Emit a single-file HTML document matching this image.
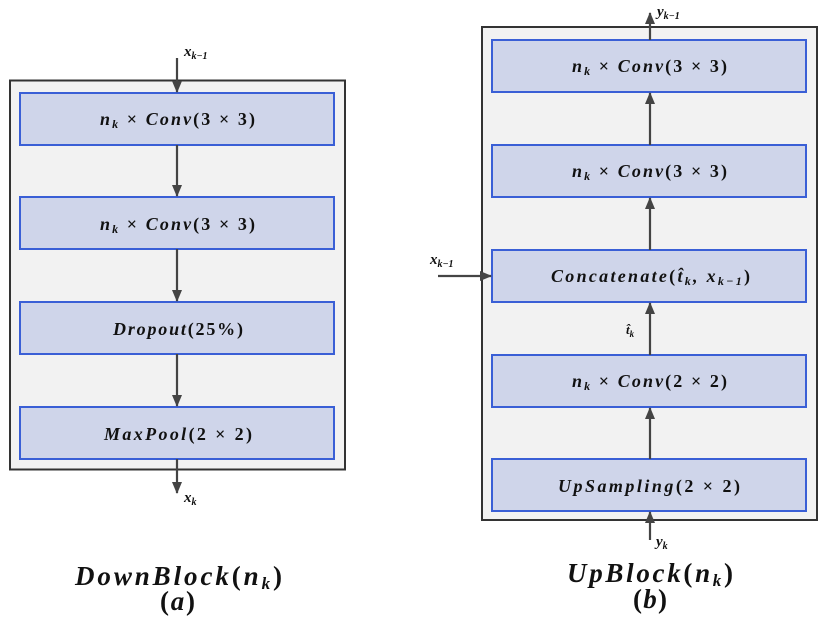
<!DOCTYPE html>
<html><head><meta charset="utf-8"><style>
html,body{margin:0;padding:0;background:#fff;}
svg text{font-family:"Liberation Serif","DejaVu Serif",serif;font-weight:bold;font-style:italic;fill:#111;}
.u{font-style:normal;}
</style></head><body>
<svg width="829" height="621" viewBox="0 0 829 621" xmlns="http://www.w3.org/2000/svg">
<defs><marker id="a" markerWidth="12" markerHeight="12" refX="11" refY="6" orient="auto" markerUnits="userSpaceOnUse"><path d="M0,1 L12,6 L0,11 Z" fill="#444"/></marker></defs>
<rect x="10" y="80.5" width="335" height="389" fill="#f2f2f2" stroke="#333" stroke-width="2"/>
<rect x="482" y="27" width="335" height="493" fill="#f2f2f2" stroke="#333" stroke-width="2"/>
<g fill="#cfd5ea" stroke="#3a5fd6" stroke-width="2">
<rect x="20" y="93" width="314" height="52"/><rect x="20" y="197" width="314" height="52"/>
<rect x="20" y="302" width="314" height="52"/><rect x="20" y="407" width="314" height="52"/>
<rect x="492" y="40" width="314" height="52"/><rect x="492" y="145" width="314" height="52"/>
<rect x="492" y="250" width="314" height="52"/><rect x="492" y="355" width="314" height="52"/>
<rect x="492" y="459" width="314" height="52"/>
</g>
<g stroke="#444" stroke-width="2.2" marker-end="url(#a)">
<line x1="177" y1="58" x2="177" y2="92"/><line x1="177" y1="145" x2="177" y2="196"/>
<line x1="177" y1="249" x2="177" y2="301"/><line x1="177" y1="354" x2="177" y2="406"/>
<line x1="177" y1="459" x2="177" y2="493"/>
<line x1="650" y1="540" x2="650" y2="512"/><line x1="650" y1="459" x2="650" y2="408"/>
<line x1="650" y1="355" x2="650" y2="303"/><line x1="650" y1="250" x2="650" y2="198"/>
<line x1="650" y1="145" x2="650" y2="93"/><line x1="650" y1="40" x2="650" y2="13"/>
<line x1="438" y1="276" x2="491" y2="276"/>
</g>
<g font-size="18">
<text x="100" y="125" textLength="155" lengthAdjust="spacing">n<tspan font-size="12" dy="3">k</tspan><tspan dy="-3" class="u"> × </tspan>Conv<tspan class="u">(3 × 3)</tspan></text>
<text x="100" y="230" textLength="155" lengthAdjust="spacing">n<tspan font-size="12" dy="3">k</tspan><tspan dy="-3" class="u"> × </tspan>Conv<tspan class="u">(3 × 3)</tspan></text>
<text x="113" y="335" textLength="130" lengthAdjust="spacing">Dropout<tspan class="u">(25%)</tspan></text>
<text x="104" y="440" textLength="148" lengthAdjust="spacing">MaxPool<tspan class="u">(2 × 2)</tspan></text>
<text x="572" y="72" textLength="155" lengthAdjust="spacing">n<tspan font-size="12" dy="3">k</tspan><tspan dy="-3" class="u"> × </tspan>Conv<tspan class="u">(3 × 3)</tspan></text>
<text x="572" y="177" textLength="155" lengthAdjust="spacing">n<tspan font-size="12" dy="3">k</tspan><tspan dy="-3" class="u"> × </tspan>Conv<tspan class="u">(3 × 3)</tspan></text>
<text x="551" y="282" textLength="199" lengthAdjust="spacing">Concatenate<tspan class="u">(</tspan>t̂<tspan font-size="12" dy="3">k</tspan><tspan dy="-3">, x</tspan><tspan font-size="12" dy="3">k−1</tspan><tspan dy="-3" class="u">)</tspan></text>
<text x="572" y="387" textLength="155" lengthAdjust="spacing">n<tspan font-size="12" dy="3">k</tspan><tspan dy="-3" class="u"> × </tspan>Conv<tspan class="u">(2 × 2)</tspan></text>
<text x="558" y="492" textLength="182" lengthAdjust="spacing">UpSampling<tspan class="u">(2 × 2)</tspan></text>
</g>
<g font-size="15">
<text x="184" y="56">x<tspan font-size="10" dy="3">k−1</tspan></text>
<text x="184" y="502">x<tspan font-size="10" dy="3">k</tspan></text>
<text x="657" y="16">y<tspan font-size="10" dy="3">k−1</tspan></text>
<text x="656" y="546">y<tspan font-size="10" dy="3">k</tspan></text>
<text x="430" y="264">x<tspan font-size="10" dy="3">k−1</tspan></text>
<text x="626" y="334" font-size="13">t̂<tspan font-size="9" dy="3">k</tspan></text>
</g>
<g font-size="27">
<text x="75" y="585" textLength="207" lengthAdjust="spacing">DownBlock<tspan class="u">(</tspan>n<tspan font-size="17" dy="4">k</tspan><tspan dy="-4" class="u">)</tspan></text>
<text x="160" y="610" textLength="35" lengthAdjust="spacing"><tspan class="u">(</tspan>a<tspan class="u">)</tspan></text>
<text x="567" y="582" textLength="166" lengthAdjust="spacing">UpBlock<tspan class="u">(</tspan>n<tspan font-size="17" dy="4">k</tspan><tspan dy="-4" class="u">)</tspan></text>
<text x="633" y="608" textLength="34" lengthAdjust="spacing"><tspan class="u">(</tspan>b<tspan class="u">)</tspan></text>
</g>
</svg>
</body></html>
